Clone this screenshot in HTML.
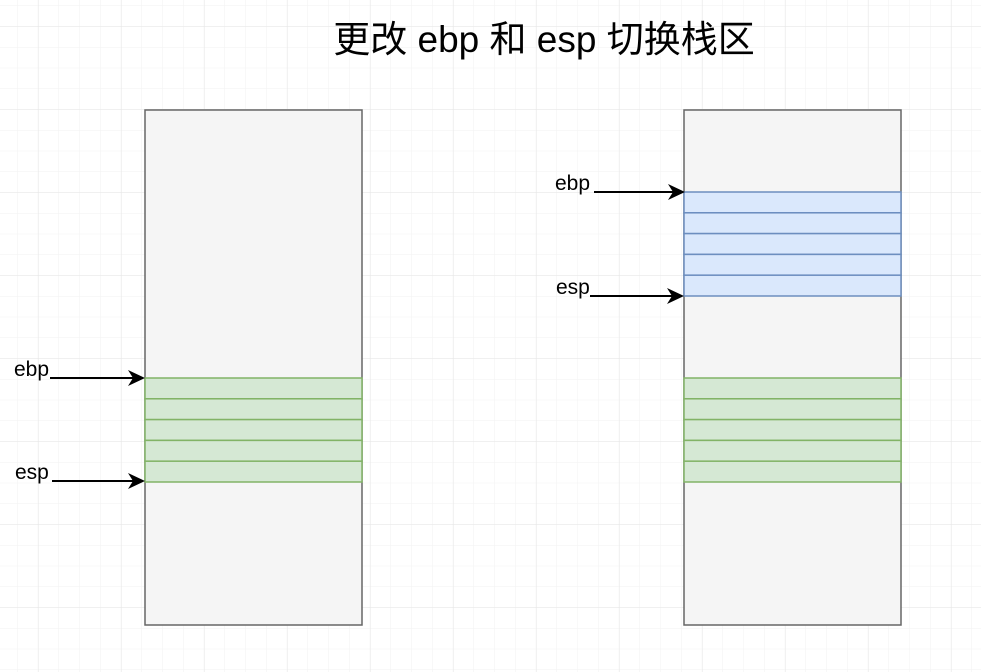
<!DOCTYPE html>
<html><head><meta charset="utf-8"><style>
html,body{margin:0;padding:0;background:#fff;}
svg{display:block;}
</style></head><body>
<svg width="981" height="672" xmlns="http://www.w3.org/2000/svg">
<defs>
<pattern id="minor" x="17" y="5.5" width="20.75" height="20.75" patternUnits="userSpaceOnUse">
<path d="M0 0H20.75M0 0V20.75" stroke="#f2f2f2" stroke-width="1" fill="none"/>
</pattern>
<pattern id="major" x="38" y="26" width="83" height="83" patternUnits="userSpaceOnUse">
<path d="M0 0H83M0 0V83" stroke="#e6e6e6" stroke-width="1" fill="none"/>
</pattern>
</defs>
<rect width="981" height="672" fill="url(#minor)"/>
<rect width="981" height="672" fill="url(#major)"/>
<text x="544" y="52" text-anchor="middle" font-family="Liberation Sans, Noto Sans CJK SC, sans-serif" font-size="37" fill="#000">更改 ebp 和 esp 切换栈区</text>

<rect x="145" y="110" width="217" height="515" fill="#f5f5f5" stroke="#666" stroke-width="1.5"/>
<g fill="#d5e8d4" stroke="#82b366" stroke-width="1.5">
<rect x="145" y="378" width="217" height="20.8"/>
<rect x="145" y="398.8" width="217" height="20.8"/>
<rect x="145" y="419.6" width="217" height="20.8"/>
<rect x="145" y="440.4" width="217" height="20.8"/>
<rect x="145" y="461.2" width="217" height="20.8"/>
</g>

<rect x="684" y="110" width="217" height="515" fill="#f5f5f5" stroke="#666" stroke-width="1.5"/>
<g fill="#dae8fc" stroke="#6c8ebf" stroke-width="1.5">
<rect x="684" y="192" width="217" height="20.8"/>
<rect x="684" y="212.8" width="217" height="20.8"/>
<rect x="684" y="233.6" width="217" height="20.8"/>
<rect x="684" y="254.4" width="217" height="20.8"/>
<rect x="684" y="275.2" width="217" height="20.8"/>
</g>
<g fill="#d5e8d4" stroke="#82b366" stroke-width="1.5">
<rect x="684" y="378" width="217" height="20.8"/>
<rect x="684" y="398.8" width="217" height="20.8"/>
<rect x="684" y="419.6" width="217" height="20.8"/>
<rect x="684" y="440.4" width="217" height="20.8"/>
<rect x="684" y="461.2" width="217" height="20.8"/>
</g>

<g stroke="#000" stroke-width="2">
<line x1="50" y1="378" x2="136" y2="378"/>
<line x1="52" y1="481" x2="136" y2="481"/>
<line x1="594" y1="192" x2="676" y2="192"/>
<line x1="590" y1="296" x2="675" y2="296"/>
</g>
<g fill="#000">
<path d="M145 378 L128 370 L133 378 L128 386 Z"/>
<path d="M145 481 L128 473 L133 481 L128 489 Z"/>
<path d="M685 192 L668 184 L673 192 L668 200 Z"/>
<path d="M684 296 L667 288 L672 296 L667 304 Z"/>
</g>
<g font-family="Liberation Sans, sans-serif" font-size="21" fill="#000">
<text x="14" y="376">ebp</text>
<text x="15" y="479">esp</text>
<text x="555" y="190">ebp</text>
<text x="556" y="294">esp</text>
</g>
</svg>
</body></html>
